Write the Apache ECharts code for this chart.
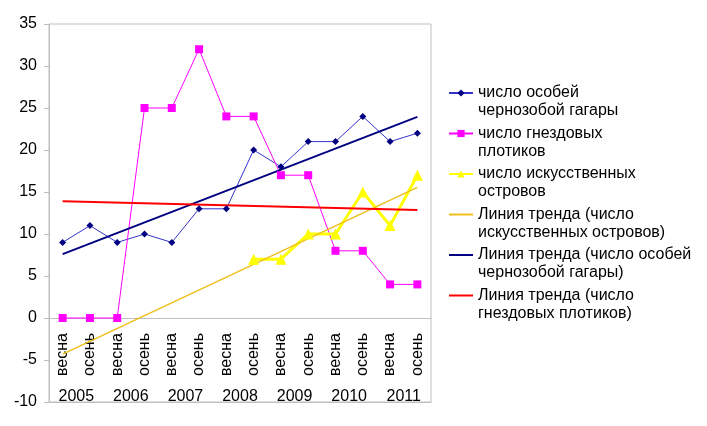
<!DOCTYPE html>
<html>
<head>
<meta charset="UTF-8">
<title></title>
<script src="https://cdn.jsdelivr.net/npm/echarts@6/dist/echarts.min.js"></script>
<style>
    html, body { margin: 0; padding: 0; background: #fff; }
    #main { width: 707px; height: 426px; }
</style>
</head>
<body>
<div id="main"></div>
<script>
    // подписи оси X: сезоны и годы
    var seasons = ['весна', 'осень', 'весна', 'осень', 'весна', 'осень', 'весна',
                   'осень', 'весна', 'осень', 'весна', 'осень', 'весна', 'осень'];
    var years = ['2005', '2006', '2007', '2008', '2009', '2010', '2011'];

    // значения рядов
    var loons   = [9, 11, 9, 10, 9, 13, 13, 20, 18, 21, 21, 24, 21, 22];
    var rafts   = [0, 0, 0, 25, 25, 32, 24, 24, 17, 17, 8, 8, 4, 4];
    var islands = [null, null, null, null, null, null, null, 7, 7, 10, 10, 15, 11, 17];

    // линии тренда: [индекс, значение] начала и конца
    var trendIslands = [[0, -4.3], [13, 15.55]];
    var trendLoons   = [[0, 7.6], [13, 23.95]];
    var trendRafts   = [[0, 13.9], [13, 12.85]];

    var font = "'Liberation Sans', Arial, sans-serif";
    var gray = '#bfbfbf';

    var myChart = echarts.init(document.getElementById('main'));

    // ось сезонов лежит на нуле: 10 единиц от низа сетки
    var plotH = 426 - 24 - 24;
    var zeroOffset = -Math.round(plotH * 10 / 45);

    var option = {
        animation: false,
        textStyle: { fontFamily: font },
        grid: {
            left: 49, right: 276, top: 24, bottom: 24,
            outerBoundsMode: 'none',
            show: true, borderColor: gray, borderWidth: 1
        },
        legend: {
            orient: 'vertical',
            left: 448, top: 66,
            padding: 0,
            itemWidth: 24, itemHeight: 9,
            itemGap: -13.5,
            selectedMode: false,
            // пустая первая строка: значок встаёт напротив первой строки подписи
            formatter: function (name) { return '\n' + name; },
            textStyle: { fontSize: 16, lineHeight: 18, color: '#000', fontFamily: font },
            data: [
                { name: 'число особей\nчернозобой гагары' },
                { name: 'число гнездовых\nплотиков' },
                { name: 'число искусственных\nостровов' },
                { name: 'Линия тренда (число\nискусственных островов)', itemStyle: { opacity: 0 } },
                { name: 'Линия тренда (число особей\nчернозобой гагары)', itemStyle: { opacity: 0 } },
                { name: 'Линия тренда (число\nгнездовых плотиков)', itemStyle: { opacity: 0 } }
            ]
        },
        xAxis: [
            {
                type: 'category',
                data: seasons,
                position: 'bottom',
                offset: zeroOffset,
                axisLine: { onZero: false, lineStyle: { color: gray } },
                axisTick: { interval: 0, length: 56, lineStyle: { color: gray } },
                axisLabel: { interval: 0, rotate: 90, margin: 15, fontSize: 16, color: '#000', fontFamily: font }
            },
            {
                type: 'category',
                data: years,
                position: 'bottom',
                axisLine: { onZero: false, lineStyle: { color: gray } },
                axisTick: { inside: true, interval: 0, length: -zeroOffset, lineStyle: { color: gray } },
                axisLabel: { inside: true, interval: 0, margin: -3, fontSize: 16, color: '#000', fontFamily: font }
            }
        ],
        yAxis: {
            type: 'value',
            min: -10, max: 35, interval: 5,
            axisLine: { show: true, lineStyle: { color: gray } },
            axisTick: { show: true, length: 5, lineStyle: { color: gray } },
            axisLabel: { margin: 12, fontSize: 16, color: '#000', fontFamily: font },
            splitLine: { show: false }
        },
        series: [
            {
                name: 'число особей\nчернозобой гагары',
                type: 'line',
                data: loons,
                symbol: 'diamond', symbolSize: 7,
                itemStyle: { color: '#000080' },
                lineStyle: { color: '#3333cc', width: 1 }
            },
            {
                name: 'число гнездовых\nплотиков',
                type: 'line',
                data: rafts,
                symbol: 'rect', symbolSize: 8,
                itemStyle: { color: '#ff00ff' },
                lineStyle: { color: '#ff00ff', width: 1 }
            },
            {
                name: 'число искусственных\nостровов',
                type: 'line',
                data: islands,
                symbol: 'triangle', symbolSize: 11,
                itemStyle: { color: '#ffff00' },
                lineStyle: { color: '#ffff00', width: 3 }
            },
            {
                name: 'Линия тренда (число\nискусственных островов)',
                type: 'line',
                data: trendIslands,
                symbol: 'none',
                itemStyle: { color: '#efbf1a' },
                lineStyle: { color: '#efbf1a', width: 1.5 }
            },
            {
                name: 'Линия тренда (число особей\nчернозобой гагары)',
                type: 'line',
                data: trendLoons,
                symbol: 'none',
                itemStyle: { color: '#000080' },
                lineStyle: { color: '#000080', width: 2 }
            },
            {
                name: 'Линия тренда (число\nгнездовых плотиков)',
                type: 'line',
                data: trendRafts,
                symbol: 'none',
                itemStyle: { color: '#ff0000' },
                lineStyle: { color: '#ff0000', width: 2 }
            }
        ]
    };

    myChart.setOption(option);
</script>
</body>
</html>
